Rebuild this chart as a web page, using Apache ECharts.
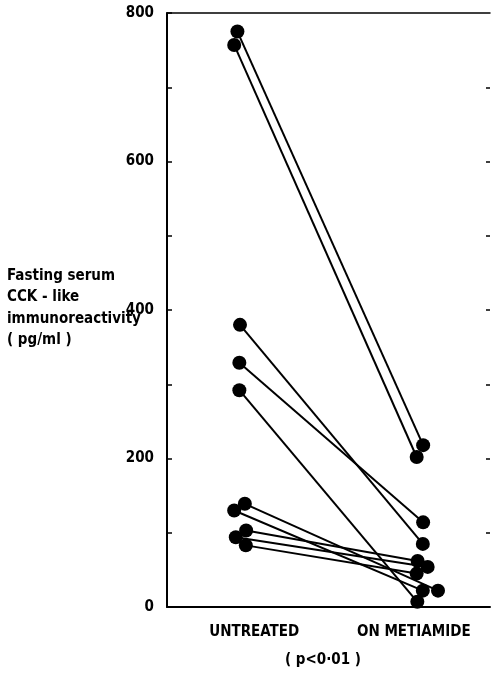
<!DOCTYPE html>
<html><head><meta charset="utf-8">
<script src="https://cdn.jsdelivr.net/npm/echarts@6/dist/echarts.min.js"></script>
<style>html,body{margin:0;padding:0;background:#fff}#c{width:491px;height:682px}</style>
</head><body><div id="c"></div>
<script>
// Categories and tick labels
const categories = ['UNTREATED', 'ON METIAMIDE'];
const yTickLabels = ['0', '200', '400', '600', '800'];
// Paired values (pg/ml), one patient per index
const untreated = [775, 757, 380, 329, 292, 139, 130, 103, 94, 83];
const metiamide = [218, 202, 85, 114, 7, 22, 22, 62, 54, 45];
// Horizontal scatter of each dot within its group (0-100 scale)
const untreatedX = [21.8, 20.8, 22.6, 22.4, 22.4, 24.1, 20.8, 24.5, 21.3, 24.4];
const metiamideX = [79.3, 77.3, 79.2, 79.3, 77.5, 83.9, 79.2, 77.6, 80.7, 77.3];
const categoryX = [27, 76.4];

const FONT = "'Liberation Sans Narrow','DejaVu Sans Condensed',sans-serif";
const chart = echarts.init(document.getElementById('c'), null, {renderer: 'canvas'});

const series = untreated.map((u, i) => ({
  type: 'line',
  data: [[untreatedX[i], u], [metiamideX[i], metiamide[i]]],
  symbol: 'circle', symbolSize: 14, showSymbol: true, animation: false,
  lineStyle: {color: '#000', width: 2}, itemStyle: {color: '#000'}, silent: true
}));

chart.setOption({
  animation: false,
  backgroundColor: '#fff',
  grid: {left: 167, right: 1, top: 13, bottom: 75, containLabel: false},
  xAxis: [{
    type: 'value', min: 0, max: 100, position: 'bottom',
    axisLine: {show: true, onZero: false, lineStyle: {color: '#000', width: 2}},
    axisTick: {show: false}, splitLine: {show: false},
    axisLabel: {
      customValues: categoryX, margin: 18,
      color: '#000', fontFamily: FONT, fontWeight: 'bold', fontSize: 15,
      formatter: v => { const k = categoryX.indexOf(v); return k >= 0 ? categories[k] : ''; }
    },
    name: '( p<0·01 )', nameLocation: 'middle', nameGap: 46,
    nameTextStyle: {color: '#000', fontFamily: FONT, fontWeight: 'bold', fontSize: 15, padding: [0, 11, 0, 0]}
  }, {
    type: 'value', min: 0, max: 100, position: 'top',
    axisLine: {show: true, onZero: false, lineStyle: {color: '#000', width: 1.5}},
    axisTick: {show: false}, axisLabel: {show: false}, splitLine: {show: false}
  }],
  yAxis: [{
    type: 'value', min: 0, max: 800, interval: 100, position: 'left',
    axisLine: {show: true, onZero: false, lineStyle: {color: '#000', width: 2}},
    axisTick: {show: true, inside: true, length: 5, lineStyle: {color: '#000', width: 1.5}},
    splitLine: {show: false},
    axisLabel: {
      margin: 13, color: '#000', fontFamily: FONT, fontWeight: 'bold', fontSize: 15,
      formatter: v => yTickLabels.includes(String(v)) ? String(v) : ''
    }
  }, {
    type: 'value', min: 0, max: 800, interval: 100, position: 'right',
    axisLine: {show: false, onZero: false},
    axisTick: {show: true, inside: true, length: 4, customValues: [100, 200, 300, 400, 500, 600, 700], lineStyle: {color: '#000', width: 1.5}},
    axisLabel: {show: false}, splitLine: {show: false}
  }],
  graphic: [{
    type: 'text', left: 7, top: 265,
    style: {
      text: 'Fasting serum\nCCK - like\nimmunoreactivity\n( pg/ml )',
      fill: '#000', font: 'bold 15px ' + FONT, lineHeight: 21.5, align: 'left'
    }
  }],
  series: series
});
</script></body></html>
